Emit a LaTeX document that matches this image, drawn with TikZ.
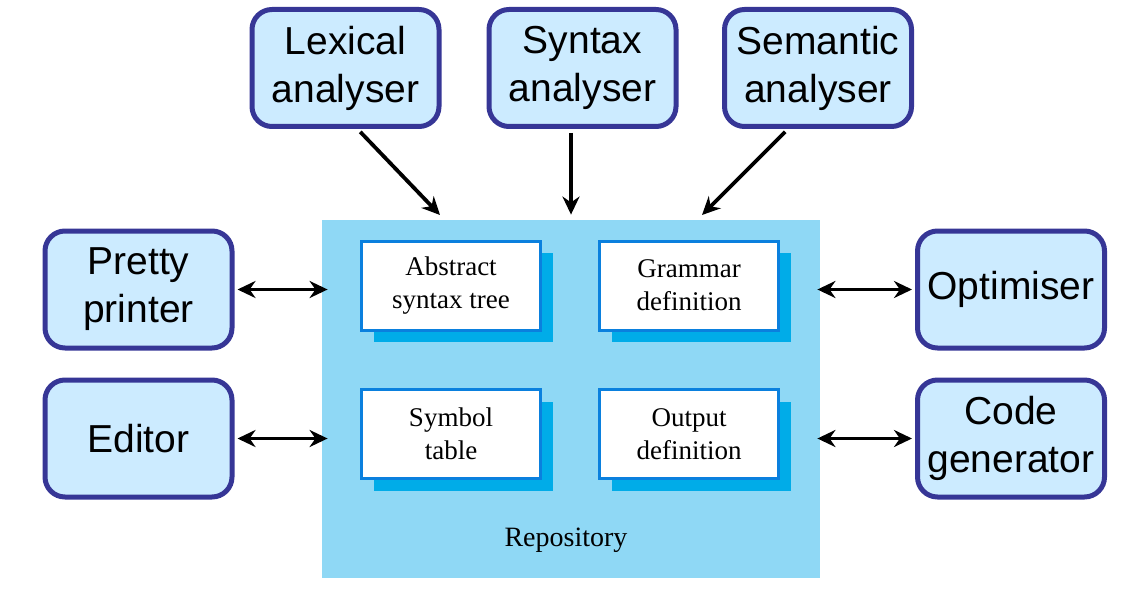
\documentclass[tikz,border=0pt]{standalone}
\usepackage{fontspec}
\setmainfont{Liberation Serif}
\newfontfamily\toolfont{Liberation Sans}
\usetikzlibrary{arrows.meta,shadows}
\definecolor{toolfill}{RGB}{204,235,255}
\definecolor{toolline}{RGB}{54,54,150}
\definecolor{repofill}{RGB}{143,216,245}
\definecolor{itemline}{RGB}{10,128,222}
\definecolor{itemshadow}{RGB}{0,172,232}
\tikzset{
  tool/.style={draw=toolline, fill=toolfill, line width=2.5pt, rounded corners=10pt,
    minimum width=93.5pt, minimum height=58.5pt, align=center, inner sep=0pt,
    font=\toolfont\fontsize{19.5}{24}\selectfont},
  item/.style={draw=itemline, fill=white, line width=1.5pt,
    minimum width=89.5pt, minimum height=44.5pt, align=center, inner sep=0pt,
    font=\fontsize{13.5}{16.5}\selectfont,
    drop shadow={shadow xshift=6pt, shadow yshift=-6pt, fill=itemshadow, opacity=1, draw=none}},
  arr/.style={-{Stealth[length=9pt,width=8.5pt]}, line width=1.9pt},
  dbl/.style={{Stealth[length=9pt,width=8.5pt]}-{Stealth[length=9pt,width=8.5pt]}, line width=1.9pt}
}
\begin{document}
\begin{tikzpicture}[x=0.5pt,y=-0.5pt]
      \useasboundingbox (0,0) rectangle (1122,588);
      \node[fill=repofill, minimum width=249pt, minimum height=179pt, inner sep=0pt] (repo) at (571,399) {};
      \node[font=\fontsize{14}{17}\selectfont] (repolabel) at (566,540) {Repository};
      \node[item] (ast) at (451,285.5) {Abstract\\syntax tree};
      \node[item] (gram) at (689,285.5) {Grammar\\definition};
      \node[item] (sym) at (451,434) {Symbol\\table};
      \node[item] (out) at (689,434) {Output\\definition};
      \node[tool] (lex) at (345.5,68) {Lexical\\analyser};
      \node[tool] (syn) at (582.5,68) {Syntax\\analyser};
      \node[tool] (sem) at (818,68) {Semantic\\analyser};
      \node[tool] (pp) at (138.5,289.5) {Pretty\\printer};
      \node[tool] (ed) at (138.5,438.5) {Editor};
      \node[tool] (opt) at (1011,289.5) {Optimiser};
      \node[tool] (cg) at (1011,438.5) {Code\\generator};
      \coordinate (lexin) at (440,215);
      \coordinate (semin) at (702,215);
      \begin{scope}[shorten <=2pt]
        \draw[arr] ([xshift=6pt]lex.south) to (lexin);
        \draw[arr] (syn.south -| repo.north) to ([yshift=2.5pt]repo.north);
        \draw[arr] ([xshift=-15pt]sem.south) to (semin);
      \end{scope}
      \begin{scope}[shorten <=1.5pt, shorten >=-3pt]
        \draw[dbl] (pp.east) to (pp.east -| repo.west);
        \draw[dbl] (ed.east) to (ed.east -| repo.west);
      \end{scope}
      \begin{scope}[shorten <=-1.5pt, shorten >=1.5pt]
        \draw[dbl] (opt.west -| repo.east) to (opt.west);
        \draw[dbl] (cg.west -| repo.east) to (cg.west);
      \end{scope}
    \end{tikzpicture}
\end{document}
